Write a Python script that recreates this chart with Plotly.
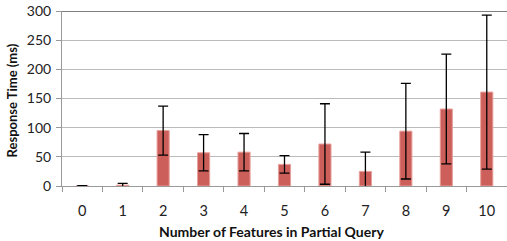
import plotly.graph_objects as go

categories = ["0", "1", "2", "3", "4", "5", "6", "7", "8", "9", "10"]
mean_ms = [0.4, 1.5, 95, 57, 58, 37, 72, 25, 94, 132, 161]
err_ms = [0.4, 3, 42, 31, 32, 15, 69, 33, 82, 94, 132]
y_ticks = [0, 50, 100, 150, 200, 250, 300]

FONT = "Lato, 'Open Sans', sans-serif"

fig = go.Figure()
fig.add_trace(go.Bar(
    x=categories, y=mean_ms,
    marker=dict(color="rgb(205,95,90)", line=dict(color="rgb(232,160,156)", width=1)),
    width=0.3,
    error_y=dict(type="data", array=err_ms, visible=True, color="black", thickness=1.3, width=5),
))

fig.add_shape(type="line", xref="paper", yref="y", x0=0, x1=1, y0=300, y1=300,
              line=dict(color="black", width=1.2))

fig.update_layout(
    width=507, height=241,
    margin=dict(l=62, r=0, t=11, b=55),
    plot_bgcolor="white", paper_bgcolor="white",
    showlegend=False,
    font=dict(family=FONT, size=14, color="#222"),
)
fig.update_xaxes(
    type="category", tickson="boundaries", ticks="outside", ticklen=5, tickcolor="#999",
    showline=True, linecolor="#999", linewidth=1, showgrid=False, automargin=False,
    ticklabelstandoff=12, tickfont=dict(size=14.5, color="#222"),
)
fig.update_yaxes(
    range=[0, 300], tickvals=y_ticks, ticks="outside", ticklen=5, tickcolor="#999",
    showline=True, linecolor="#999", linewidth=1, automargin=False,
    showgrid=True, gridcolor="#bbb", gridwidth=1, zeroline=False,
    ticklabelstandoff=2, tickfont=dict(size=14, color="#222"),
)
fig.add_annotation(text="<b>Number of Features in Partial Query</b>", xref="paper", yref="paper",
                   x=0.47, y=-0.2, yanchor="top", showarrow=False, font=dict(size=14, color="#111"))
fig.add_annotation(text="<b>Response Time (ms)</b>", xref="paper", yref="paper",
                   x=-0.112, xanchor="center", y=0.49, textangle=-90, showarrow=False,
                   font=dict(size=13, color="#111"))

fig.write_html("out.html", config={"displayModeBar": False},
               post_script="document.body.style.margin='0';document.body.style.overflow='hidden';")
